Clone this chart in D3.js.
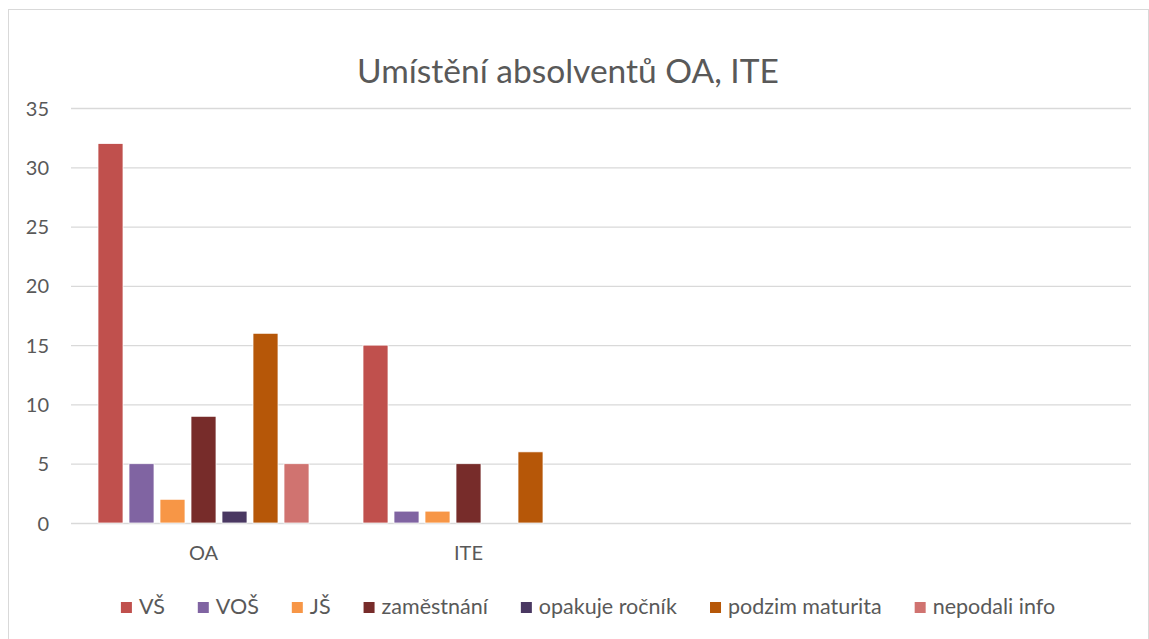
<!DOCTYPE html>
<html lang="cs">
<head>
<meta charset="UTF-8">
<title>Umístění absolventů OA, ITE</title>
<script src="https://d3js.org/d3.v7.min.js"></script>
<style>
  body { margin: 0; background: #fff; }
  svg { display: block; font-family: Lato, "Open Sans", sans-serif; }
  .tick text { fill: #595959; font-size: 20px; font-family: Lato, sans-serif; }
</style>
</head>
<body>
<svg id="chart" width="1149" height="639"></svg>
<script>
var categories = ["OA", "ITE", "", " "];
var seriesNames = ["VŠ", "VOŠ", "JŠ", "zaměstnání", "opakuje ročník", "podzim maturita", "nepodali info"];
var seriesColors = ["#C0504D", "#8064A2", "#F79646", "#772C2A", "#4A3862", "#B65708", "#D07370"];
// values per series: [OA, ITE]
var valVS = [32, 15];
var valVOS = [5, 1];
var valJS = [2, 1];
var valZam = [9, 5];
var valOpak = [1, 0];
var valPodzim = [16, 6];
var valNepodali = [5, 0];
var yTicks = [0, 5, 10, 15, 20, 25, 30, 35];

var allValues = [valVS, valVOS, valJS, valZam, valOpak, valPodzim, valNepodali];

var svg = d3.select("#chart");
var margin = {left: 71, right: 18, top: 108, bottom: 116};
var width = 1149, height = 639;

// outer chart frame
svg.append("rect")
    .attr("x", 8.5).attr("y", 9.5)
    .attr("width", 1140).attr("height", 640)
    .attr("fill", "none").attr("stroke", "#d9d9d9");

svg.append("text")
    .attr("x", 568).attr("y", 83)
    .attr("text-anchor", "middle")
    .attr("fill", "#595959")
    .style("font-size", "33.5px")
    .text("Umístění absolventů OA, ITE");

var x = d3.scaleBand().domain(categories)
    .range([margin.left, width - margin.right]);
var y = d3.scaleLinear().domain([0, 35])
    .range([height - margin.bottom, margin.top]);

// gridlines
svg.append("g").selectAll("line")
    .data(yTicks).enter().append("line")
    .attr("x1", margin.left).attr("x2", width - margin.right)
    .attr("y1", function(d) { return y(d) + 0.5; })
    .attr("y2", function(d) { return y(d) + 0.5; })
    .attr("stroke", "#d9d9d9").attr("stroke-width", 1.3);

var yAxis = svg.append("g")
    .attr("transform", "translate(" + (margin.left - 22) + ",0)")
    .call(d3.axisLeft(y).tickValues(yTicks).tickSize(0).tickPadding(0));
yAxis.select(".domain").remove();
yAxis.selectAll("text").attr("dy", "0.35em");

var xAxis = svg.append("g")
    .attr("transform", "translate(0," + (height - margin.bottom) + ")")
    .call(d3.axisBottom(x).tickSize(0).tickPadding(23));
xAxis.select(".domain").remove();

var barW = 25, gap = 6;
var groupW = seriesNames.length * barW + (seriesNames.length - 1) * gap;
var inner = d3.scaleBand().domain(seriesNames)
    .range([(x.bandwidth() - groupW) / 2, (x.bandwidth() + groupW) / 2])
    .paddingInner(gap / (barW + gap)).paddingOuter(0);

var rows = [];
allValues.forEach(function(vals, si) {
  vals.forEach(function(v, ci) {
    rows.push({cat: categories[ci], series: seriesNames[si], color: seriesColors[si], value: v});
  });
});

svg.append("g").selectAll("rect")
    .data(rows.filter(function(d) { return d.value > 0; }))
    .enter().append("rect")
    .attr("x", function(d) { return x(d.cat) + inner(d.series); })
    .attr("width", inner.bandwidth())
    .attr("y", function(d) { return y(d.value); })
    .attr("height", function(d) { return y(0) - y(d.value); })
    .attr("fill", function(d) { return d.color; })
    .attr("stroke", "#fff").attr("stroke-width", 0.75);

// legend
var legend = svg.append("g");
var items = legend.selectAll("g").data(seriesNames).enter().append("g");
items.append("rect")
    .attr("width", 11).attr("height", 11)
    .attr("y", -12)
    .attr("fill", function(d, i) { return seriesColors[i]; });
items.append("text")
    .attr("x", 18).attr("y", 0)
    .attr("fill", "#595959")
    .style("font-size", "21.5px")
    .text(function(d) { return d; });
var pos = 0, legGap = 33;
items.each(function() {
  var g = d3.select(this);
  g.attr("transform", "translate(" + pos + ",0)");
  pos += 18 + g.select("text").node().getComputedTextLength() + legGap;
});
var total = pos - legGap;
legend.attr("transform", "translate(" + (588 - total / 2) + ",614)");
</script>
</body>
</html>
